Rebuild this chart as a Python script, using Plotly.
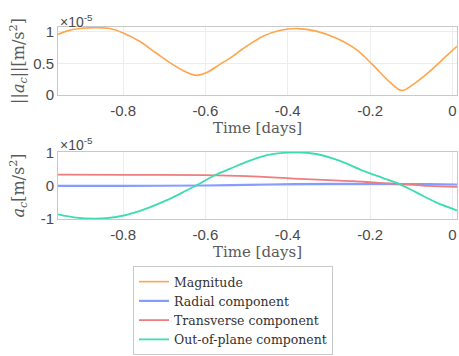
import plotly.graph_objects as go

# ---- data (values in units of 1e-5 m/s^2) ----
t_mag = [-0.958, -0.937, -0.905, -0.865, -0.832, -0.80, -0.76, -0.719, -0.679, -0.646, -0.622,
         -0.598, -0.566, -0.541, -0.50, -0.46, -0.42, -0.376, -0.331, -0.283, -0.234, -0.194,
         -0.153, -0.123, -0.097, -0.056, -0.016, 0.011]
magnitude = [0.957, 1.01, 1.05, 1.065, 1.05, 0.98, 0.85, 0.66, 0.48, 0.36, 0.31,
             0.35, 0.48, 0.58, 0.77, 0.93, 1.02, 1.05, 1.01, 0.90, 0.72, 0.48,
             0.21, 0.07, 0.16, 0.37, 0.61, 0.77]

t_oop = [-0.958, -0.914, -0.865, -0.817, -0.76, -0.695, -0.646, -0.618, -0.582, -0.541, -0.492,
         -0.444, -0.379, -0.331, -0.275, -0.218, -0.17, -0.13, -0.089, -0.041, 0.011]
out_of_plane = [-0.87, -0.97, -1.0, -0.95, -0.77, -0.45, -0.15, 0.03, 0.28, 0.50, 0.75,
                0.93, 1.0, 0.95, 0.75, 0.45, 0.23, 0.05, -0.20, -0.50, -0.75]

t_comp = [-0.958, -0.8, -0.6, -0.5, -0.386, -0.3, -0.24, -0.18, -0.12, -0.06, 0.011]
transverse = [0.33, 0.32, 0.31, 0.28, 0.21, 0.16, 0.13, 0.08, 0.05, -0.01, -0.04]
radial = [-0.01, -0.01, 0.0, 0.02, 0.04, 0.05, 0.05, 0.05, 0.04, 0.04, 0.03]

x_ticks = [-0.8, -0.6, -0.4, -0.2, 0]
x_tick_labels = ["-0.8", "-0.6", "-0.4", "-0.2", "0"]

C_MAG = "#FFA64D"
C_RAD = "#859DFF"
C_TRA = "#EE7D7D"
C_OOP = "#3EDCB2"

W, H = 459, 356
ml, mr = 58, 2

def py(px):
    return 1 - px / H

fig = go.Figure()
fig.add_trace(go.Scatter(x=t_mag, y=magnitude, mode="lines", line=dict(color=C_MAG, width=1.6, shape="spline"),
                         name="Magnitude", xaxis="x", yaxis="y"))
fig.add_trace(go.Scatter(x=t_comp, y=radial, mode="lines", line=dict(color=C_RAD, width=2.2, shape="spline"),
                         name="Radial component", xaxis="x2", yaxis="y2"))
fig.add_trace(go.Scatter(x=t_comp, y=transverse, mode="lines", line=dict(color=C_TRA, width=1.8, shape="spline"),
                         name="Transverse component", xaxis="x2", yaxis="y2"))
fig.add_trace(go.Scatter(x=t_oop, y=out_of_plane, mode="lines", line=dict(color=C_OOP, width=1.8, shape="spline"),
                         name="Out-of-plane component", xaxis="x2", yaxis="y2"))

SERIF = "DejaVu Serif, Liberation Serif"
tickfont = dict(family="Liberation Sans, Arial", size=15, color="#4a4a4a")
titlefont = dict(family=SERIF, size=15, color="#5a5a5a")
ytitlefont = dict(family=SERIF, size=16, color="#5a5a5a")
ytitlefont2 = dict(family=SERIF, size=16, color="#5a5a5a")
axcommon = dict(showline=True, mirror=True, linecolor="#c8c8c8", linewidth=1,
                showgrid=True, gridcolor="#ededed", zeroline=False, ticks="",
                tickfont=tickfont, automargin=False)
xcommon = dict(ticklabelstandoff=2)

fig.update_layout(
    width=W, height=H,
    margin=dict(l=ml, r=mr, t=0, b=0, autoexpand=False),
    paper_bgcolor="white", plot_bgcolor="white",
    showlegend=True,
    xaxis=dict(domain=[0, 1], range=[-0.958, 0.011], tickvals=x_ticks, ticktext=x_tick_labels,
               anchor="y", title=dict(text="Time [days]", font=titlefont, standoff=4), **axcommon, **xcommon),
    yaxis=dict(domain=[py(95), py(27)], range=[0, 1.075], tickvals=[0, 0.5, 1], ticktext=["0", "0.5", "1"],
               anchor="x", title=dict(text="||<i>a<sub>c</sub></i>||[m/s<sup>2</sup>]", font=ytitlefont, standoff=4),
               **axcommon),
    xaxis2=dict(domain=[0, 1], range=[-0.958, 0.011], tickvals=x_ticks, ticktext=x_tick_labels,
                anchor="y2", title=dict(text="Time [days]", font=titlefont, standoff=3), **axcommon, **xcommon),
    yaxis2=dict(domain=[py(219), py(152)], range=[-1.01, 1.01], tickvals=[-1, 0, 1], ticktext=["-1", "0", "1"],
                anchor="x2", title=dict(text="<i>a<sub>c</sub></i>[m/s<sup>2</sup>]", font=ytitlefont2, standoff=12),
                **axcommon),
    legend=dict(x=(133 - ml) / (W - ml - mr), y=py(266), xanchor="left", yanchor="top",
                bordercolor="#c8c8c8", borderwidth=1, bgcolor="white",
                font=dict(family=SERIF, size=12.5, color="#333333"),
                itemwidth=30, tracegroupgap=0),
    annotations=[
        dict(text="×10<sup>-5</sup>", xref="paper", yref="paper", x=0, y=py(27), xanchor="left", yanchor="bottom",
             yshift=-5, showarrow=False, font=dict(family="Liberation Sans, Arial", size=14, color="#4a4a4a")),
        dict(text="×10<sup>-5</sup>", xref="paper", yref="paper", x=0, y=py(152), xanchor="left", yanchor="bottom",
             yshift=-3, showarrow=False, font=dict(family="Liberation Sans, Arial", size=14, color="#4a4a4a")),
    ],
)

fig.write_html("out.html", config={"displayModeBar": False},
               post_script="document.body.style.margin='0px';")
